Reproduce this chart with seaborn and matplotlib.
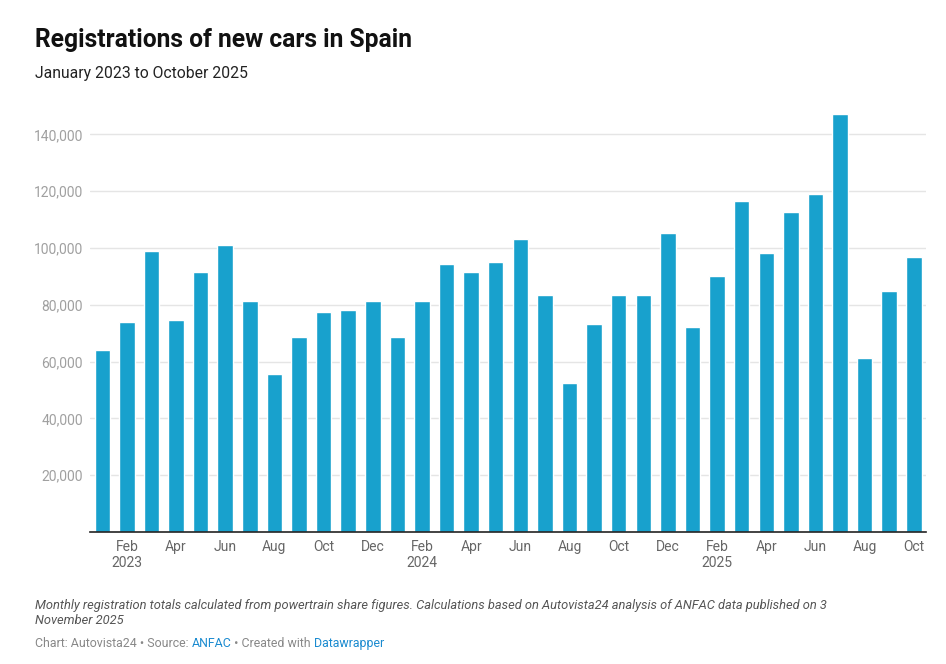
import pandas as pd
import matplotlib.pyplot as plt
import seaborn as sns

# 数据：2023年1月至2025年10月的月度新车注册量
months = pd.date_range('2023-01-01', periods=34, freq='MS').strftime('%Y-%m').tolist()
registrations = [
    63900, 73800, 99100, 74500, 91700, 100900, 81200, 55800, 68500, 77600, 78000, 81500,
    68500, 81200, 94500, 91700, 94900, 103000, 83600, 52300, 73100, 83300, 83300, 105100,
    72000, 90000, 116400, 98400, 112500, 118900, 147100, 61100, 85000, 96700,
]
tick_labels = [
    'Feb\n2023', 'Apr', 'Jun', 'Aug', 'Oct', 'Dec',
    'Feb\n2024', 'Apr', 'Jun', 'Aug', 'Oct', 'Dec',
    'Feb\n2025', 'Apr', 'Jun', 'Aug', 'Oct',
]
y_ticks = [20000, 40000, 60000, 80000, 100000, 120000, 140000]

df = pd.DataFrame({'month': months, 'registrations': registrations})

sns.set_style('white')
plt.rcParams['font.family'] = ['Roboto', 'DejaVu Sans']

fig = plt.figure(figsize=(9.46, 6.64), dpi=100)
ax = fig.add_axes([0.0951, 0.1988, 0.8839, 0.6502])

sns.barplot(data=df, x='month', y='registrations', order=months,
            color='#18a1cd', saturation=1, width=0.63, ax=ax)

ax.set_xlim(-0.5, len(months) - 0.5)
ax.set_ylim(0, 152000)
ax.set_xlabel('')
ax.set_ylabel('')

# 网格线与坐标轴
ax.set_yticks(y_ticks)
ax.set_yticklabels([f'{v:,}' for v in y_ticks])
ax.yaxis.grid(True, color='#e5e5e5', linewidth=1)
ax.set_axisbelow(True)
for side in ['left', 'right', 'top']:
    ax.spines[side].set_visible(False)
ax.spines['bottom'].set_color('#222222')
ax.spines['bottom'].set_linewidth(1.2)

ax.set_xticks(range(1, len(months), 2))
ax.set_xticklabels(tick_labels, linespacing=1.15)
ax.tick_params(axis='x', length=0, pad=6, labelsize=10, labelcolor='#666666')
ax.tick_params(axis='y', length=0, pad=5, labelsize=10, labelcolor='#a0a0a0')

# 标题与说明文字
fig.text(0.037, 0.929, 'Registrations of new cars in Spain', fontsize=17.7,
         fontweight='bold', color='#111111')
fig.text(0.037, 0.883, 'January 2023 to October 2025', fontsize=11.3, color='#222222')

fig.text(0.037, 0.060,
         'Monthly registration totals calculated from powertrain share figures. '
         'Calculations based on Autovista24 analysis of ANFAC data published on 3\n'
         'November 2025',
         fontsize=9.3, style='italic', color='#555555', linespacing=1.2)

footer_y = 0.025
fs = 8.9
t = fig.text(0.037, footer_y, 'Chart: Autovista24 • Source: ', fontsize=fs, color='#888888')
fig.canvas.draw()
renderer = fig.canvas.get_renderer()
x = 0.037 + t.get_window_extent(renderer).width / fig.bbox.width
t2 = fig.text(x, footer_y, 'ANFAC', fontsize=fs, color='#1b8bd0')
x += t2.get_window_extent(renderer).width / fig.bbox.width
t3 = fig.text(x, footer_y, ' • Created with ', fontsize=fs, color='#888888')
x += t3.get_window_extent(renderer).width / fig.bbox.width
fig.text(x, footer_y, 'Datawrapper', fontsize=fs, color='#1b8bd0')

fig.savefig('out.png', dpi=100)
